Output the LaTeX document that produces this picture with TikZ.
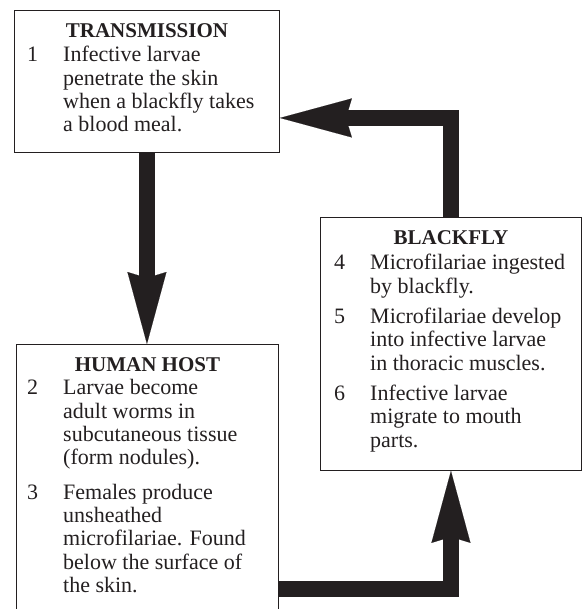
\documentclass[tikz,border=0pt]{standalone}
\usepackage{fontspec}
\setmainfont{Liberation Serif}
\usepackage{xcolor}
\usetikzlibrary{arrows.meta}
\definecolor{ink}{HTML}{231F20}
\tikzset{stagebox/.style={draw=ink, line width=0.9pt, inner sep=0pt, anchor=north west},
  stagehead/.style={anchor=base, inner sep=0pt, text=ink, font=\fontsize{21}{24}\selectfont\bfseries},
  stagetext/.style={anchor=base west, inner sep=0pt, text=ink, font=\fontsize{22}{23.3}\selectfont},
  lifearrow/.style={draw=ink, line width=16.5pt, -{Stealth[length=72pt, width=39pt, inset=6pt, line width=0.1pt]}}}
\newcommand{\steplist}[1]{\begin{tabular}[t]{@{}p{36pt}@{}l@{}}#1\end{tabular}}

\begin{document}
\begin{tikzpicture}[x=1pt, y=1pt]
\useasboundingbox (0,0) rectangle (587,609);
\clip (0,0) rectangle (587,609);
% the three stages
\node[stagebox, minimum width=265pt, minimum height=142pt] (trans) at (14,599) {};
\node[stagehead] (transhead) at ([yshift=-28pt]trans.north) {TRANSMISSION};
\node[stagetext] (transtext) at ([xshift=13pt, yshift=-52pt]trans.north west) {\steplist{
  1 & Infective larvae\\
    & penetrate the skin\\
    & when a blackfly takes\\
    & a blood meal.}};

\node[stagebox, minimum width=262pt, minimum height=280pt] (human) at (16,265) {};
\node[stagehead] (humanhead) at ([yshift=-28pt]human.north) {HUMAN HOST};
\node[stagetext] (humantext) at ([xshift=11pt, yshift=-51pt]human.north west) {\steplist{
  2 & Larvae become\\
    & adult worms in\\
    & subcutaneous tissue\\
    & (form nodules).\\[11pt]
  3 & Females produce\\
    & unsheathed\\
    & microfilariae. Found\\
    & below the surface of\\
    & the skin.}};

\node[stagebox, minimum width=261pt, minimum height=253pt] (fly) at (320,392) {};
\node[stagehead] (flyhead) at ([yshift=-28pt]fly.north) {BLACKFLY};
\node[stagetext] (flytext) at ([xshift=14pt, yshift=-53pt]fly.north west) {\steplist{
  4 & Microfilariae ingested\\
    & by blackfly.\\[7pt]
  5 & Microfilariae develop\\
    & into infective larvae\\
    & in thoracic muscles.\\[7pt]
  6 & Infective larvae\\
    & migrate to mouth\\
    & parts.}};

% the cycle
\coordinate (hostout) at (human.east |- 0,20);
\coordinate (transin) at ([yshift=-36.5pt]trans.east);
\draw[lifearrow] (trans.south) -- (trans.south |- human.north);
\draw[lifearrow] (hostout) -| (fly.south);
\draw[lifearrow] (fly.north) |- (transin);
\end{tikzpicture}
\end{document}
